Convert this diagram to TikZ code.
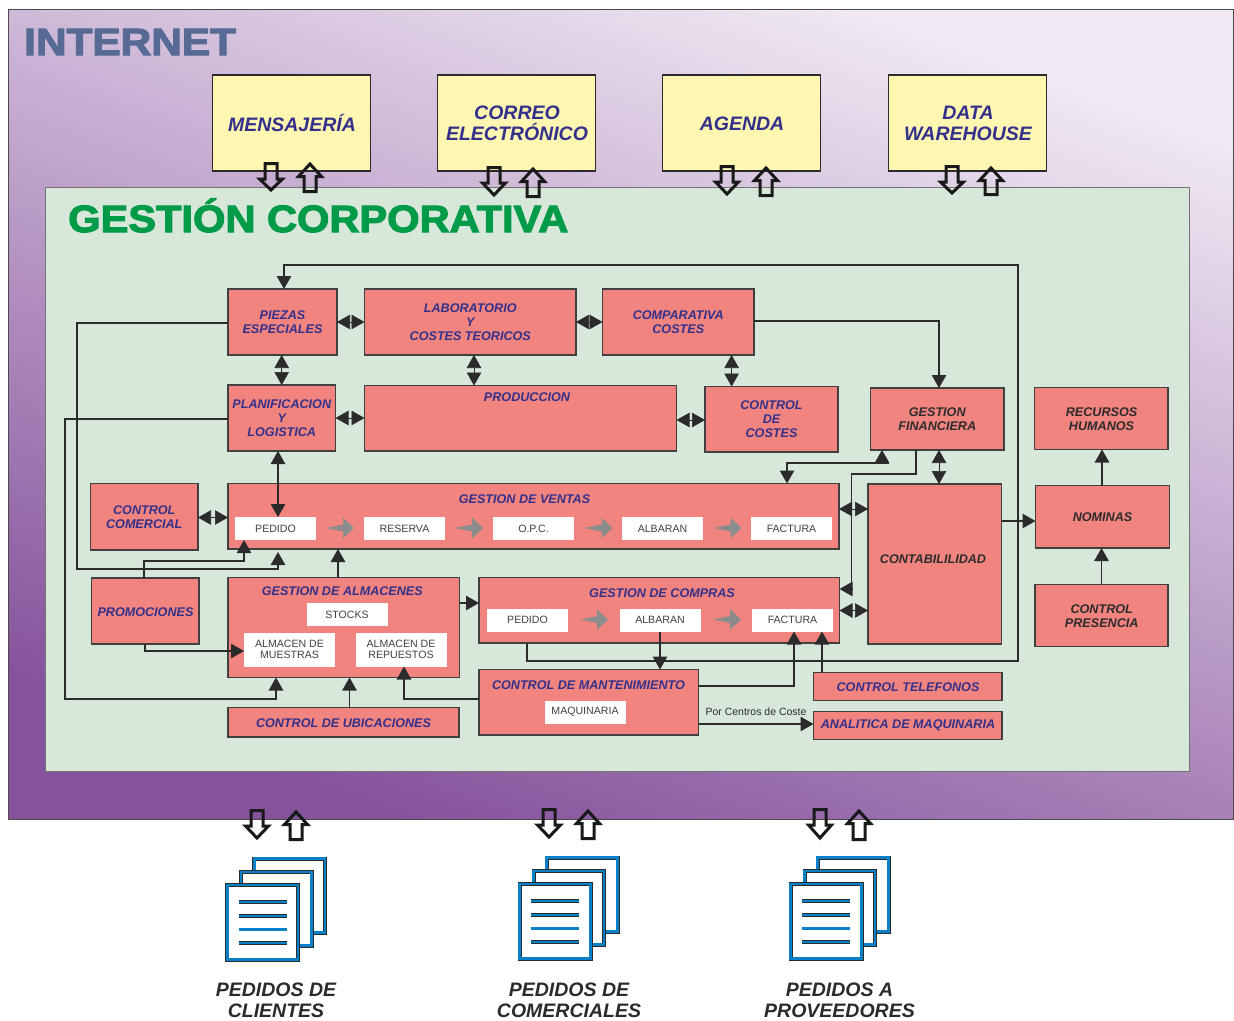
\documentclass[tikz,border=0pt]{standalone}
\usepackage{fontspec}
\setmainfont{Liberation Sans}
\usetikzlibrary{arrows.meta}
\definecolor{ink}{HTML}{32308A}
\definecolor{dk}{HTML}{2B2B2B}
\definecolor{salmon}{HTML}{F28480}
\definecolor{mint}{HTML}{D7E8DB}
\definecolor{butter}{HTML}{FFF6B2}
\definecolor{hdblue}{HTML}{566A94}
\definecolor{hdgreen}{HTML}{009B48}
\definecolor{docblue}{HTML}{0A80C8}
\definecolor{gradtop}{HTML}{F0E8F3}
\definecolor{gradmid}{HTML}{C2A8CF}
\definecolor{gradbot}{HTML}{85529C}
\font\hvinternet="Liberation Sans/B:embolden=3;extend=1.115" at 38pt
\font\hvgestion="Liberation Sans/B:embolden=3;extend=1.095" at 38pt
\tikzset{
  boxn/.style={draw=dk!90,line width=1.05pt,fill=salmon,inner sep=0pt,outer sep=0pt,align=center,
     text=ink,font=\fontsize{12.6}{14}\selectfont\bfseries\itshape},
  dkt/.style={text=dk},
  wbox/.style={draw=none,fill=white,inner sep=0pt,outer sep=0pt,align=center,
     text=dk!90,font=\fontsize{10.6}{11.5}\selectfont},
  ybox/.style={draw=dk,line width=1.1pt,fill=butter,inner sep=0pt,outer sep=0pt},
  ytxt/.style={inner sep=0pt,outer sep=0pt,align=center,text=ink,font=\fontsize{19.5}{21}\selectfont\bfseries\itshape},
  ttl/.style={inner sep=0pt,outer sep=0pt,align=center,text=ink,font=\fontsize{12.6}{14}\selectfont\bfseries\itshape},
  captxt/.style={inner sep=0pt,outer sep=0pt,align=center,text=dk,font=\fontsize{19.5}{21}\selectfont\bfseries\itshape},
  conn/.style={draw=dk,line width=1.05pt},
  arr/.style={conn,-{Triangle[length=13pt,width=14.5pt]}},
  dbl/.style={conn,line width=.7pt,{Triangle[length=13pt,width=14.5pt]}-{Triangle[length=13pt,width=14.5pt]}},
  blockar/.style={draw=black!90,line width=3pt,line join=miter,miter limit=4},
}
% box from corners: name, x1,y1,x2,y2, text
\newcommand\bx[7][]{\node[boxn,#1,minimum width={(#5-#3)*1pt},minimum height={(#6-#4)*1pt}] (#2) at ({(#3+#5)/2},{(#4+#6)/2}) {#7};}
\newcommand\wb[6]{\node[wbox,minimum width={(#4-#2)*1pt},minimum height={(#5-#3)*1pt}] (#1) at ({(#2+#4)/2},{(#3+#5)/2}) {#6};}
\newcommand\yb[6]{\node[ybox,minimum width={(#4-#2)*1pt},minimum height={(#5-#3)*1pt}] (#1) at ({(#2+#4)/2},{(#3+#5)/2}) {};
  \node[ytxt] (#1t) at ({(#2+#4)/2+0.5},{(#3+#5)/2+0.4}) {#6};}
\newcommand\grayarr[2]{\fill[gray!90] (#1,#2) -- ++(17,-3.5) -- ++(0,-7) -- ++(11,10.5) -- ++(-11,10.5) -- ++(0,-7) -- cycle;}
\newcommand\blockdn[3]{\draw[blockar] (#1+8,#2+1.5) -- (#1+20,#2+1.5) -- (#1+20,#2+17) -- (#1+25.5,#2+17) -- (#1+14,#3-3) -- (#1+2.5,#2+17) -- (#1+8,#2+17) -- cycle;}
\newcommand\blockup[3]{\draw[blockar] (#1+8,#3-1.5) -- (#1+20,#3-1.5) -- (#1+20,#2+15.5) -- (#1+25.5,#2+15.5) -- (#1+14,#2+3) -- (#1+2.5,#2+15.5) -- (#1+8,#2+15.5) -- cycle;}
\newcommand\docpage[4]{%
  \fill[white] (#1,#2) rectangle (#3,#4);
  \draw[dk,line width=4pt] (#1,#2) rectangle (#3,#4);
  \draw[docblue,line width=2.8pt] (#1,#2) rectangle (#3,#4);}
\newcommand\docline[2]{%
  \draw[dk,line width=3.8pt] (#1+13.5,#2) -- (#1+61.5,#2);
  \draw[docblue,line width=2.4pt] (#1+13.5,#2) -- (#1+61.5,#2);}
% front page left x, front page top y
\newcommand\docicon[2]{%
  \docpage{#1+29.3}{#2-24.3}{#1+100}{#2+49.5}
  \docpage{#1+16}{#2-11}{#1+86.5}{#2+62.7}
  \docpage{#1+2.3}{#2+2}{#1+73}{#2+76.5}
  \docline{#1}{#2+19}\docline{#1}{#2+33}\docline{#1}{#2+46.5}\docline{#1}{#2+60}}
\begin{document}
\begin{tikzpicture}[x=1pt,y=-1pt]
\useasboundingbox (0,0) rectangle (1234,1020);
\fill[white] (0,0) rectangle (1234,1020);
\shade[top color=gradtop,middle color=gradmid,bottom color=gradbot,shading angle=-20] (8,9) rectangle (1233,819);
\draw[dk!85,line width=.9pt] (8,9) rectangle (1233,819);
\node[anchor=base west,inner sep=0pt,text=hdblue] (inet) at (24,55) {\hvinternet INTERNET};
\yb{mens}{212.5}{75}{370.5}{171}{MENSAJERÍA}
\yb{corr}{437.5}{75}{595.5}{171}{CORREO\\ELECTRÓNICO}
\yb{agen}{662.5}{75}{820.5}{171}{AGENDA}
\yb{ware}{888.5}{75}{1046.5}{171}{DATA\\WAREHOUSE}
\fill[mint] (45,187) rectangle (1189,771);
\draw[gray!90!black,line width=.9pt] (45,187) rectangle (1189,771);
\node[anchor=base west,inner sep=0pt,text=hdgreen] (gest) at (68,232) {\hvgestion GESTIÓN CORPORATIVA};
\blockdn{257}{162}{193}\blockup{296}{161}{193}
\blockdn{480}{166}{198}\blockup{519}{166}{198}
\blockdn{713}{165}{197}\blockup{752}{165}{197}
\blockdn{938}{165}{196}\blockup{977}{165}{196}
% boxes
\bx{piezas}{228}{289}{337}{355}{PIEZAS\\ESPECIALES}
\bx{lab}{364.5}{289}{576}{355}{LABORATORIO\\Y\\COSTES TEORICOS}
\bx{comp}{602.5}{289}{754}{355}{COMPARATIVA\\COSTES}
\bx{plan}{228}{385}{335.5}{451}{PLANIFICACION\\Y\\LOGISTICA}
\bx{prod}{364.5}{385.5}{676.5}{451}{}
\node[ttl] (prodt) at (527,397.5) {PRODUCCION};
\bx{cost}{705}{386.5}{838}{452}{CONTROL\\DE\\COSTES}
\bx[dkt]{fin}{870.5}{388}{1004}{450}{GESTION\\FINANCIERA}
\bx{rrhh}{1034.5}{387.5}{1168}{449.5}{}
\node[ttl,dkt] (rrhht) at (1101.5,419) {RECURSOS\\HUMANOS};
\bx[dkt]{nom}{1035.5}{485.5}{1169.5}{548}{NOMINAS}
\bx{ccom}{90.5}{483.5}{198}{550}{CONTROL\\COMERCIAL}
\bx{vent}{228}{483.5}{839}{549}{}
\node[ttl] (ventt) at (524.5,499) {GESTION DE VENTAS};
\wb{vped}{235}{517}{316}{540}{PEDIDO}
\wb{vres}{364}{517}{445}{540}{RESERVA}
\wb{vopc}{493}{517}{574}{540}{O.P.C.}
\wb{valb}{622}{517}{703}{540}{ALBARAN}
\wb{vfac}{751}{517}{832}{540}{FACTURA}
\grayarr{326}{528}\grayarr{455}{528}\grayarr{584.5}{528}\grayarr{713.5}{528}
\bx[dkt]{cont}{868}{484}{1001.5}{644}{}
\node[ttl,dkt] (contt) at (933,559) {CONTABILILIDAD};
\bx{prom}{91.5}{578}{199}{644}{}
\node[ttl] (promt) at (145.5,612) {PROMOCIONES};
\bx{alm}{228}{577.5}{459.5}{677.5}{}
\node[ttl] (almt) at (342.3,591) {GESTION DE ALMACENES};
\wb{astk}{306.5}{603}{387.5}{626}{STOCKS}
\wb{amue}{244}{632.5}{335}{666.5}{ALMACEN DE\\MUESTRAS}
\wb{arep}{355.5}{632.5}{446.5}{666.5}{ALMACEN DE\\REPUESTOS}
\bx{ubic}{228}{707.5}{459}{737}{}
\node[ttl] (ubict) at (343.5,723) {CONTROL DE UBICACIONES};
\bx{comq}{479}{577.5}{839.5}{643}{}
\node[ttl] (comqt) at (662,593) {GESTION DE COMPRAS};
\wb{qped}{487}{608.5}{568}{631.5}{PEDIDO}
\wb{qalb}{619.5}{608.5}{700.5}{631.5}{ALBARAN}
\wb{qfac}{752}{608.5}{833}{631.5}{FACTURA}
\grayarr{580}{619.5}\grayarr{713}{619.5}
\bx{mant}{479}{669.5}{698.5}{735}{}
\node[ttl] (mantt) at (588.5,685) {CONTROL DE MANTENIMIENTO};
\wb{maq}{544.5}{700.5}{625.5}{723.5}{MAQUINARIA}
\bx{telf}{813.5}{672.5}{1002}{700.5}{}
\node[ttl] (telft) at (908,687) {CONTROL TELEFONOS};
\bx{anal}{813.5}{711.5}{1002}{739.5}{}
\node[ttl] (analt) at (908,725) {ANALITICA DE MAQUINARIA};
\bx{pres}{1035}{584.5}{1168}{646.5}{}
\node[ttl,dkt] (prest) at (1101.7,616) {CONTROL\\PRESENCIA};
% connectors
\draw[arr] (comq.south -| 527,0) |- (1018,661) |- (284,265) -- (piezas.north -| 284,0);
\draw[arr] (piezas.west |- 0,323) -| (77,569) -| (278,552) ;
\draw[arr] (plan.west |- 0,419) -| (65,699) -| (alm.south -| 276,0);
\draw[arr] (prom.north -| 144,0) |- (244,561) -- (vped.south -| 244,0);
\draw[arr] (prom.south -| 145,0) |- (amue.west |- 0,651);
\draw[arr] (alm.north -| 338,0) -- (vent.south -| 338,0);
\draw[arr] (alm.east |- 0,603) -- (comq.west |- 0,603);
\draw[arr] (ubic.north -| 349.5,0) -- (alm.south -| 349.5,0);
\draw[arr] (mant.west |- 0,699) -| (arep.south -| 404,0);
\draw[arr] (qalb.south -| 660,0) -- (mant.north -| 660,0);
\draw[arr] (mant.east |- 0,686) -| (qfac.south -| 794,0);
\draw[arr] (telf.north -| 822,0) -- (qfac.south -| 822,0);
\draw[arr] (mant.east |- 0,724) -- (anal.west |- 0,724);
\node[inner sep=0pt,text=dk,font=\fontsize{10.5}{12}\selectfont] (pcc) at (756,711.5) {Por Centros de Coste};
\draw[arr] (comp.east |- 0,321) -| (fin.north -| 939,0);
\draw[arr] (fin.south -| 916,0) |- (851.5,474) |- (comq.east |- 0,589);
\draw[arr] (882,463) -- (fin.south -| 882,0);
\draw[arr] (889,463) -| (vent.north -| 787,0);
\draw[arr] (cont.east |- 0,521) -- (nom.west |- 0,521);
\draw[arr] (nom.north -| 1102,0) -- (rrhh.south -| 1102,0);
\draw[arr] (pres.north -| 1101.5,0) -- (nom.south -| 1101.5,0);
\draw[dbl] (piezas.east |- 0,322) -- (lab.west |- 0,322);
\draw[dbl] (lab.east |- 0,322) -- (comp.west |- 0,322);
\draw[dbl] (piezas.south -| 281.7,0) -- (plan.north -| 281.7,0);
\draw[dbl] (lab.south -| 474,0) -- (prod.north -| 474,0);
\draw[dbl] (comp.south -| 731.6,0) -- (cost.north -| 731.6,0);
\draw[dbl] (plan.east |- 0,418) -- (prod.west |- 0,418);
\draw[dbl] (prod.east |- 0,420) -- (cost.west |- 0,420);
\draw[dbl] (fin.south -| 939,0) -- (cont.north -| 939,0);
\draw[dbl] (vent.east |- 0,509) -- (cont.west |- 0,509);
\draw[dbl] (comq.east |- 0,610.5) -- (cont.west |- 0,610.5);
\draw[dbl] (ccom.east |- 0,517.5) -- (vent.west |- 0,517.5);
\draw[conn,{Triangle[length=13pt,width=14.5pt]}-{Triangle[length=13pt,width=14.5pt]}] (plan.south -| 278,0) -- (vped.north -| 278,0);
% bottom
\blockdn{243}{809}{841}\blockup{282}{809}{841}
\blockdn{535}{808}{840}\blockup{574}{808}{840}
\blockdn{806}{808}{841}\blockup{845}{808}{841}
\docicon{225}{883}
\docicon{517.5}{882}
\docicon{788.5}{882}
\node[captxt] (pc) at (276,1000.5) {PEDIDOS DE\\CLIENTES};
\node[captxt] (pm) at (569,1000) {PEDIDOS DE\\COMERCIALES};
\node[captxt] (pp) at (839.5,1000.5) {PEDIDOS A\\PROVEEDORES};
\end{tikzpicture}
\end{document}
